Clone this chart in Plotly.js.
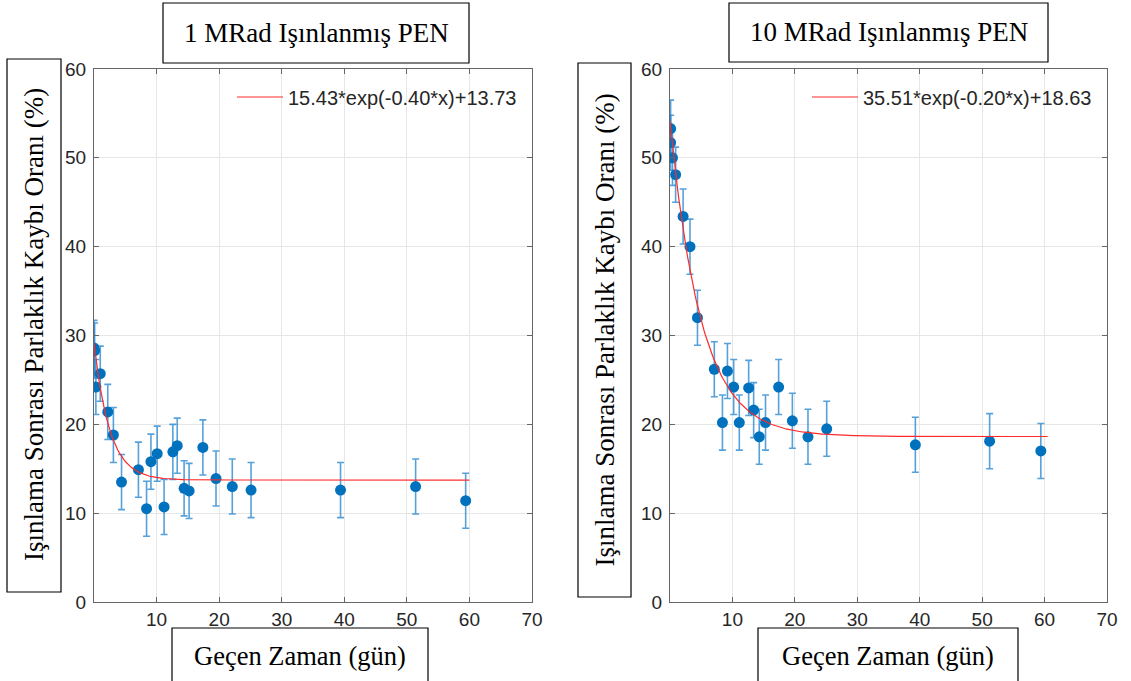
<!DOCTYPE html>
<html>
<head>
<meta charset="utf-8">
<script src="https://cdn.plot.ly/plotly-3.0.1.min.js"></script>
<style>html,body{margin:0;padding:0;background:#fff;}#chart{width:1131px;height:681px;}</style>
</head>
<body>
<div id="chart"></div>
<script>
// ---- Data ----
const panelTitles = ["1 MRad Işınlanmış PEN", "10 MRad Işınlanmış PEN"];
const xTitle = "Geçen Zaman (gün)";
const yTitle = "Işınlama Sonrası Parlaklık Kaybı Oranı (%)";

const days1 = [0.0, 0.1, 0.3, 1.0, 2.2, 3.1, 4.4, 7.1, 8.4, 9.1, 10.1, 11.2, 12.6, 13.3, 14.4, 15.2, 17.4, 19.5, 22.1, 25.1, 39.4, 51.4, 59.4];
const loss1 = [28.6, 28.3, 24.2, 25.7, 21.4, 18.8, 13.5, 14.9, 10.5, 15.8, 16.7, 10.7, 16.9, 17.6, 12.8, 12.5, 17.4, 13.9, 13.0, 12.6, 12.6, 13.0, 11.4];
const err1  = [3.1, 3.1, 3.1, 3.1, 3.1, 3.1, 3.1, 3.1, 3.1, 3.1, 3.1, 3.1, 3.1, 3.1, 3.1, 3.1, 3.1, 3.1, 3.1, 3.1, 3.1, 3.1, 3.1];

const days2 = [0.1, 0.1, 0.4, 0.9, 2.1, 3.2, 4.4, 7.1, 8.4, 9.2, 10.2, 11.1, 12.6, 13.4, 14.3, 15.3, 17.4, 19.6, 22.1, 25.1, 39.3, 51.2, 59.4];
const loss2 = [53.3, 51.7, 50.0, 48.1, 43.4, 40.0, 32.0, 26.2, 20.2, 26.0, 24.2, 20.2, 24.1, 21.6, 18.6, 20.2, 24.2, 20.4, 18.6, 19.5, 17.7, 18.1, 17.0];
const err2  = [3.2, 3.1, 3.1, 3.1, 3.1, 3.1, 3.1, 3.1, 3.1, 3.1, 3.1, 3.1, 3.1, 3.1, 3.1, 3.1, 3.1, 3.1, 3.1, 3.1, 3.1, 3.1, 3.1];

// fitted model a*exp(b*x)+c as printed in the legends
const fitA = [15.43, 35.51];
const fitB = [-0.40, -0.20];
const fitC = [13.73, 18.63];
const fitXEnd = [60, 60.5];
const fitLabels = ["15.43*exp(-0.40*x)+13.73", "35.51*exp(-0.20*x)+18.63"];

const xTicks = [10, 20, 30, 40, 50, 60, 70];
const yTicks = [0, 10, 20, 30, 40, 50, 60];

// ---- Build ----
const W = 1131, H = 681;
const px = v => v / W;
const py = v => 1 - v / H;

function fitCurve(i) {
  const xs = [], ys = [];
  const n = 300;
  for (let k = 0; k <= n; k++) {
    const x = fitXEnd[i] * k / n;
    xs.push(x);
    ys.push(fitA[i] * Math.exp(fitB[i] * x) + fitC[i]);
  }
  return {xs, ys};
}

const blue = '#0072BD';
const traces = [];
[[days1, loss1, err1], [days2, loss2, err2]].forEach((d, i) => {
  const xa = i === 0 ? 'x' : 'x2', ya = i === 0 ? 'y' : 'y2';
  traces.push({
    type: 'scatter', mode: 'markers', x: d[0], y: d[1], xaxis: xa, yaxis: ya,
    marker: {color: blue, size: 11},
    error_y: {type: 'data', array: d[2], visible: true, color: 'rgba(30,130,205,0.75)', thickness: 1.6, width: 3.5},
    showlegend: false, hoverinfo: 'x+y'
  });
  const f = fitCurve(i);
  traces.push({
    type: 'scatter', mode: 'lines', x: f.xs, y: f.ys, xaxis: xa, yaxis: ya,
    line: {color: '#ff2a2a', width: 1.2},
    name: fitLabels[i], showlegend: true, legend: i === 0 ? 'legend' : 'legend2'
  });
});

const axisCommon = {
  showline: true, mirror: 'ticks', linecolor: '#666', linewidth: 1,
  ticks: 'inside', ticklen: 5, tickcolor: '#666',
  showgrid: true, gridcolor: '#e6e6e6', gridwidth: 1, zeroline: false,
  tickfont: {family: 'Liberation Sans, Arial, sans-serif', size: 19, color: '#262626'}
};
const xAx = Object.assign({}, axisCommon, {range: [0, 70], tickmode: 'array', tickvals: xTicks, ticktext: xTicks.map(String)});
const yAx = Object.assign({}, axisCommon, {range: [0, 60], tickmode: 'array', tickvals: yTicks, ticktext: yTicks.map(String), ticklabelstandoff: 3});

const serif = 'Liberation Serif, Times New Roman, serif';
function box(x0, y0, x1, y1) {
  return {type: 'rect', xref: 'paper', yref: 'paper', x0: px(x0), x1: px(x1), y0: py(y1), y1: py(y0),
          line: {color: '#000', width: 1.2}, fillcolor: 'rgba(0,0,0,0)', layer: 'above'};
}
function label(text, cx, cy, size, angle) {
  return {text: text, xref: 'paper', yref: 'paper', x: px(cx), y: py(cy), xanchor: 'center', yanchor: 'middle',
          showarrow: false, textangle: angle || 0, font: {family: serif, size: size, color: '#000'}};
}

const legendCommon = {
  orientation: 'v', bgcolor: 'rgba(255,255,255,0)', borderwidth: 0, xref: 'paper', yref: 'paper',
  xanchor: 'left', yanchor: 'middle', itemwidth: 46,
  font: {family: 'Liberation Sans, Arial, sans-serif', size: 20, color: '#262626'}
};

const layout = {
  width: W, height: H,
  margin: {l: 0, r: 0, t: 0, b: 0},
  paper_bgcolor: '#fff', plot_bgcolor: '#fff',
  xaxis: Object.assign({}, xAx, {domain: [px(94), px(532)], anchor: 'y'}),
  yaxis: Object.assign({}, yAx, {domain: [py(602), py(69)], anchor: 'x'}),
  xaxis2: Object.assign({}, xAx, {domain: [px(670), px(1107)], anchor: 'y2'}),
  yaxis2: Object.assign({}, yAx, {domain: [py(602), py(69)], anchor: 'x2'}),
  legend: Object.assign({}, legendCommon, {x: px(232), y: py(97)}),
  legend2: Object.assign({}, legendCommon, {x: px(807), y: py(97)}),
  shapes: [
    box(163, 3, 469, 63), box(729, 3, 1048, 62),
    box(7, 59, 61, 592), box(578, 63, 631, 597),
    box(172, 628, 428, 690), box(758, 628, 1018, 690)
  ],
  annotations: [
    label(panelTitles[0], 316, 33, 27), label(panelTitles[1], 888.5, 32, 27),
    label(yTitle, 34, 325, 27, -90), label(yTitle, 604.5, 330, 27, -90),
    label(xTitle, 300, 656, 26.5), label(xTitle, 888, 656, 26.5)
  ],
  showlegend: true
};

Plotly.newPlot('chart', traces, layout, {displayModeBar: false, staticPlot: true});
</script>
</body>
</html>
